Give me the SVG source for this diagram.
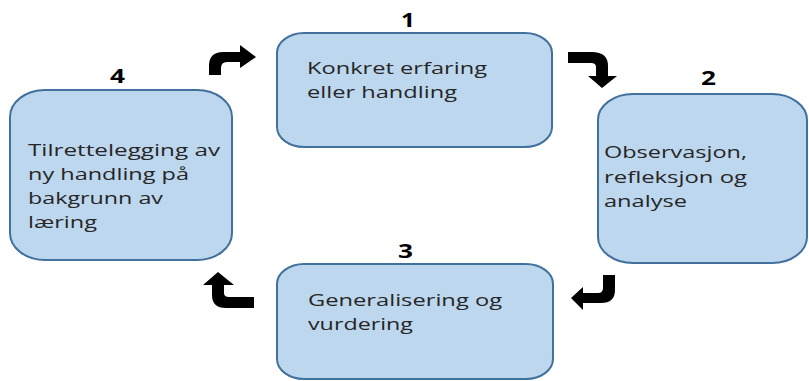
<svg xmlns="http://www.w3.org/2000/svg" width="809" height="381" viewBox="0 0 809 381">
<style>
.box{fill:#BDD7EE;stroke:#41719C;stroke-width:2}
.t{font-family:"Open Sans","Liberation Sans",sans-serif;font-size:17px;fill:#262626}
.n{font-family:"Open Sans","Liberation Sans",sans-serif;font-size:19px;font-weight:bold;fill:#000}
.arr{fill:#000}
</style>
<rect width="809" height="381" fill="#fff"/>
<g id="node1">
<rect class="box" x="277" y="33" width="275" height="114" rx="27" ry="20"/>
<text class="n" x="401" y="27" textLength="14" lengthAdjust="spacingAndGlyphs">1</text>
<text class="t" x="307" y="74" textLength="180" lengthAdjust="spacingAndGlyphs">Konkret erfaring</text>
<text class="t" x="307" y="98" textLength="150" lengthAdjust="spacingAndGlyphs">eller handling</text>
</g>
<g id="node2">
<rect class="box" x="598" y="94" width="209" height="169" rx="35" ry="26"/>
<text class="n" x="701" y="85" textLength="15" lengthAdjust="spacingAndGlyphs">2</text>
<text class="t" x="604" y="158" textLength="143" lengthAdjust="spacingAndGlyphs">Observasjon,</text>
<text class="t" x="604" y="183" textLength="143" lengthAdjust="spacingAndGlyphs">refleksjon og</text>
<text class="t" x="604" y="207" textLength="83" lengthAdjust="spacingAndGlyphs">analyse</text>
</g>
<g id="node3">
<rect class="box" x="277" y="264" width="276" height="115" rx="27" ry="20"/>
<text class="n" x="398" y="258" textLength="15" lengthAdjust="spacingAndGlyphs">3</text>
<text class="t" x="308" y="306" textLength="194" lengthAdjust="spacingAndGlyphs">Generalisering og</text>
<text class="t" x="308" y="330" textLength="105" lengthAdjust="spacingAndGlyphs">vurdering</text>
</g>
<g id="node4">
<rect class="box" x="10" y="90" width="222" height="170" rx="35" ry="27"/>
<text class="n" x="110" y="83" textLength="15" lengthAdjust="spacingAndGlyphs">4</text>
<text class="t" x="28" y="156" textLength="192" lengthAdjust="spacingAndGlyphs">Tilrettelegging av</text>
<text class="t" x="28" y="180" textLength="161" lengthAdjust="spacingAndGlyphs">ny handling på</text>
<text class="t" x="28" y="204" textLength="135" lengthAdjust="spacingAndGlyphs">bakgrunn av</text>
<text class="t" x="28" y="228" textLength="69" lengthAdjust="spacingAndGlyphs">læring</text>
</g>
<g id="connectors">
<path class="arr" d="M209,75 L209,66 Q209,52 223,52 L240,52 L240,45 L256,57 L240,68 L240,62 L227,62 Q221,62 221,68 L221,75 Z"/>
<path class="arr" d="M568,52 L592,52 Q608,52 608,66 L608,76 L617,76 L602,88 L588,76 L596,76 L596,67 Q596,63 591,63 L568,63 Z"/>
<path class="arr" d="M615,275 L615,290 Q615,303 601,303 L583,303 L583,310 L571,298 L583,287 L583,293 L598,293 Q603,293 603,288 L603,275 Z"/>
<path class="arr" d="M254,308 L226,308 Q212,308 212,295 L212,285 L203,285 L218,272 L234,285 L224,285 L224,293 Q224,297 229,297 L254,297 Z"/>
</g>
</svg>
